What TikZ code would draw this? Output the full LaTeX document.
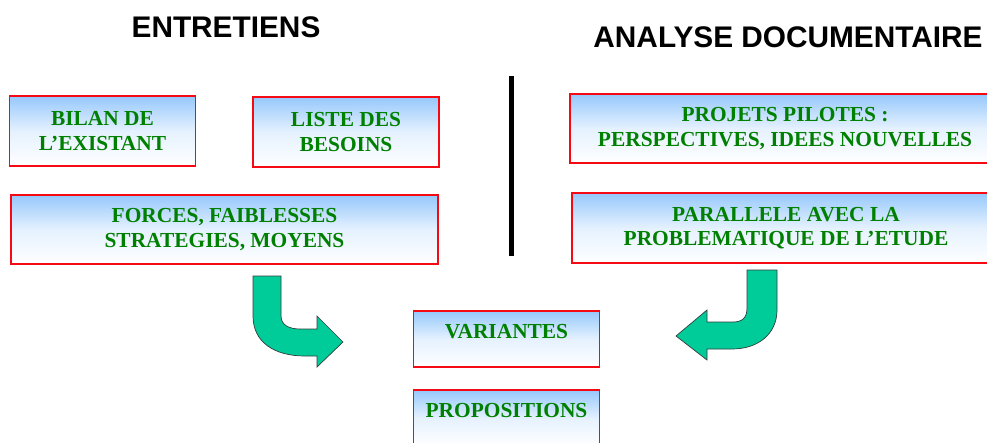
\documentclass[tikz,border=0pt]{standalone}
\usepackage{fontspec}
\setmainfont{Liberation Serif}
\newfontfamily\headfont{Liberation Sans}
\definecolor{boxtop}{RGB}{150,200,252}
\definecolor{boxtext}{RGB}{0,128,0}
\definecolor{boxline}{RGB}{245,10,20}
\definecolor{arrowfill}{RGB}{0,204,153}
\definecolor{arrowline}{RGB}{50,60,60}
\begin{document}
\begin{tikzpicture}[x=1pt,y=-1pt,
  heading/.style={font=\headfont\fontsize{29.8}{34}\selectfont\bfseries, inner sep=0},
  infobox/.style={draw=boxline, line width=1.2pt, shading=axis,
    top color=boxtop, bottom color=white, middle color=boxtop!25,
    text=boxtext, align=center, inner sep=0,
    font=\fontsize{21.4}{24.5}\selectfont\bfseries},
  shortbox/.style={infobox, minimum width=186, minimum height=56,
    text height=14.2, text depth=16},
  bentarrow/.style={fill=arrowfill, draw=arrowline, line width=0.7pt, line join=miter}]
  \useasboundingbox (0,0) rectangle (987,442);
  \clip (0,0) rectangle (987,442);

  % headings
  \node[heading] (entretiens) at (226,27) {ENTRETIENS};
  \node[heading] (analyse) at (788,37) {ANALYSE DOCUMENTAIRE};

  % separator between the two columns
  \draw[line width=5pt] (511.5,76) -- (511.5,256);

  % interview results
  \node[infobox, minimum width=186, minimum height=70] (bilan) at (102.5,131)
    {BILAN DE\\L’EXISTANT};
  \node[infobox, minimum width=186, minimum height=70] (besoins) at (346,132)
    {LISTE DES\\BESOINS};
  \node[infobox, minimum width=427, minimum height=69] (forces) at (224.5,229.5)
    {FORCES, FAIBLESSES\\STRATEGIES, MOYENS};

  % documentary analysis
  \node[infobox, minimum width=430, minimum height=69] (projets) at (785,128.5)
    {PROJETS PILOTES :\\PERSPECTIVES, IDEES NOUVELLES};
  \node[infobox, minimum width=428, minimum height=70] (parallele) at (786,228)
    {PARALLELE AVEC LA\\PROBLEMATIQUE DE L’ETUDE};

  % outcomes
  \node[shortbox] (variantes) at (506.5,339) {VARIANTES};
  \node[shortbox] (propositions) at (506.5,418) {PROPOSITIONS};

  % bent arrows leading to the outcomes
  \draw[bentarrow] (253,276) -- (281,276) -- (281,316)
    .. controls (281,325) and (289,329) .. (300,329) -- (317,329)
    -- (317,316) -- (343,342) -- (317,367) -- (317,356) -- (305,356)
    .. controls (274,356) and (253,342) .. (253,316) -- cycle;
  \draw[bentarrow] (747,270) -- (777,270) -- (777,310)
    .. controls (777,334) and (758,349) .. (732,349) -- (707,349)
    -- (707,360) -- (676,336) -- (707,310) -- (707,322) -- (733,322)
    .. controls (742,322) and (747,318) .. (747,308) -- cycle;
\end{tikzpicture}
\end{document}
